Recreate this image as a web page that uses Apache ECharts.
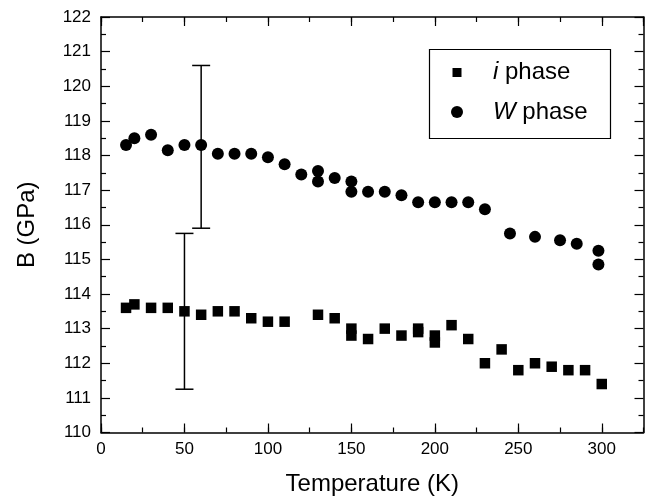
<!DOCTYPE html>
<html>
<head>
<meta charset="utf-8">
<script src="https://cdn.jsdelivr.net/npm/echarts@6/dist/echarts.min.js"></script>
<style>html,body{margin:0;padding:0;background:#fff;}#c{width:652px;height:496px;}</style>
</head>
<body>
<div id="c"></div>
<script>
// ---- data ----
const iPhaseT = [15,20,30,40,50,60,70,80,90,100,110,130,140,150,150,160,170,180,190,190,200,200,210,220,230,240,250,260,270,280,290,300];
const iPhaseB = [113.6,113.7,113.6,113.6,113.5,113.4,113.5,113.5,113.3,113.2,113.2,113.4,113.3,113.0,112.8,112.7,113.0,112.8,113.0,112.9,112.8,112.6,113.1,112.7,112.0,112.4,111.8,112.0,111.9,111.8,111.8,111.4];
const wPhaseT = [15,20,30,40,50,60,70,80,90,100,110,120,130,130,140,150,150,160,170,180,190,200,210,220,230,245,260,275,285,298,298];
const wPhaseB = [118.3,118.5,118.6,118.15,118.3,118.3,118.05,118.05,118.05,117.95,117.75,117.45,117.55,117.25,117.35,117.25,116.95,116.95,116.95,116.85,116.65,116.65,116.65,116.65,116.45,115.75,115.65,115.55,115.45,115.25,114.85];
// error bars: [T, low, high]
const errorT    = [50, 60];
const errorLow  = [111.25, 115.9];
const errorHigh = [115.75, 120.6];
const seriesNames = ['i phase', 'W phase'];
const xTicks = {min: 0, max: 325, major: 50, minor: 25};
const yTicks = {min: 110, max: 122, major: 1};

const FONT = 'Liberation Sans, Arial, sans-serif';
const zip = (a, b) => a.map((v, k) => [v, b[k]]);
const errData = errorT.map((t, k) => [t, errorLow[k], errorHigh[k]]);

const chart = echarts.init(document.getElementById('c'), null, {renderer: 'canvas'});

function xAxisDef(pos, interval, len, showLine, withLabel) {
  return {
    type: 'value', position: pos, min: xTicks.min, max: xTicks.max, interval: interval,
    axisLine: {show: showLine, onZero: false, lineStyle: {color: '#000', width: 1.5}},
    axisTick: {show: true, inside: true, length: len, lineStyle: {color: '#000', width: 1.2}},
    axisLabel: withLabel ? {show: true, fontSize: 17, color: '#000', fontFamily: FONT, margin: 8, showMaxLabel: false} : {show: false},
    splitLine: {show: false},
    name: withLabel ? 'Temperature (K)' : '',
    nameLocation: 'middle', nameGap: 40,
    nameTextStyle: {fontSize: 24, color: '#000', fontFamily: FONT}
  };
}
function yAxisDef(pos, withLabel) {
  return {
    type: 'value', position: pos, min: yTicks.min, max: yTicks.max, interval: yTicks.major,
    axisLine: {show: true, onZero: false, lineStyle: {color: '#000', width: 1.5}},
    axisTick: {show: true, inside: true, length: 9, lineStyle: {color: '#000', width: 1.2}},
    minorTick: {show: true, splitNumber: 2, length: 5, lineStyle: {color: '#000', width: 1.2}},
    axisLabel: withLabel ? {show: true, fontSize: 17, color: '#000', fontFamily: FONT, margin: 10} : {show: false},
    splitLine: {show: false},
    name: withLabel ? 'B (GPa)' : '',
    nameLocation: 'middle', nameGap: 62,
    nameTextStyle: {fontSize: 24, color: '#000', fontFamily: FONT}
  };
}
function legendText(padLeft) {
  return {
    fontSize: 24, color: '#000', fontFamily: FONT,
    rich: {it: {fontStyle: 'italic', fontSize: 24, color: '#000', fontFamily: FONT, padding: [0, 0, 0, padLeft]}}
  };
}
const legendFmt = name => '{it|' + name.split(' ')[0] + '} ' + name.split(' ').slice(1).join(' ');

chart.setOption({
  backgroundColor: '#fff',
  animation: false,
  grid: {left: 101, right: 8.5, top: 17, bottom: 63.5, containLabel: false, outerBoundsMode: 'none'},
  xAxis: [
    xAxisDef('bottom', xTicks.major, 9, true, true),
    xAxisDef('bottom', xTicks.minor, 5, false, false),
    xAxisDef('top', xTicks.major, 9, true, false),
    xAxisDef('top', xTicks.minor, 5, false, false)
  ],
  yAxis: [yAxisDef('left', true), yAxisDef('right', false)],
  legend: [
    {data: [seriesNames[0]], left: 452.5, top: 60.5, padding: 0, itemWidth: 9, itemHeight: 9,
     icon: 'rect', textStyle: legendText(26.5), formatter: legendFmt, selectedMode: false},
    {data: [seriesNames[1]], left: 451, top: 100, padding: 0, itemWidth: 12, itemHeight: 12,
     icon: 'circle', textStyle: legendText(25), formatter: legendFmt, selectedMode: false}
  ],
  graphic: [{type: 'rect', left: 427, top: 47, shape: {width: 181, height: 89},
             style: {fill: 'none', stroke: '#000', lineWidth: 1.2}, silent: true}],
  series: [
    {name: 'errors', type: 'custom', xAxisIndex: 0, yAxisIndex: 0, data: errData,
     encode: {x: 0, y: [1, 2]},
     renderItem: function (params, api) {
       const lo = api.coord([api.value(0), api.value(1)]);
       const hi = api.coord([api.value(0), api.value(2)]);
       const hw = 9;
       const st = {stroke: '#000', lineWidth: 1.5, fill: 'none'};
       return {type: 'group', children: [
         {type: 'line', shape: {x1: lo[0], y1: lo[1], x2: hi[0], y2: hi[1]}, style: st},
         {type: 'line', shape: {x1: lo[0] - hw, y1: lo[1], x2: lo[0] + hw, y2: lo[1]}, style: st},
         {type: 'line', shape: {x1: hi[0] - hw, y1: hi[1], x2: hi[0] + hw, y2: hi[1]}, style: st}
       ]};
     }},
    {name: seriesNames[0], type: 'scatter', xAxisIndex: 0, yAxisIndex: 0, symbol: 'rect', symbolSize: 10.5,
     itemStyle: {color: '#000', opacity: 1}, data: zip(iPhaseT, iPhaseB)},
    {name: seriesNames[1], type: 'scatter', xAxisIndex: 0, yAxisIndex: 0, symbol: 'circle', symbolSize: 12,
     itemStyle: {color: '#000', opacity: 1}, data: zip(wPhaseT, wPhaseB)}
  ]
});
</script>
</body>
</html>
